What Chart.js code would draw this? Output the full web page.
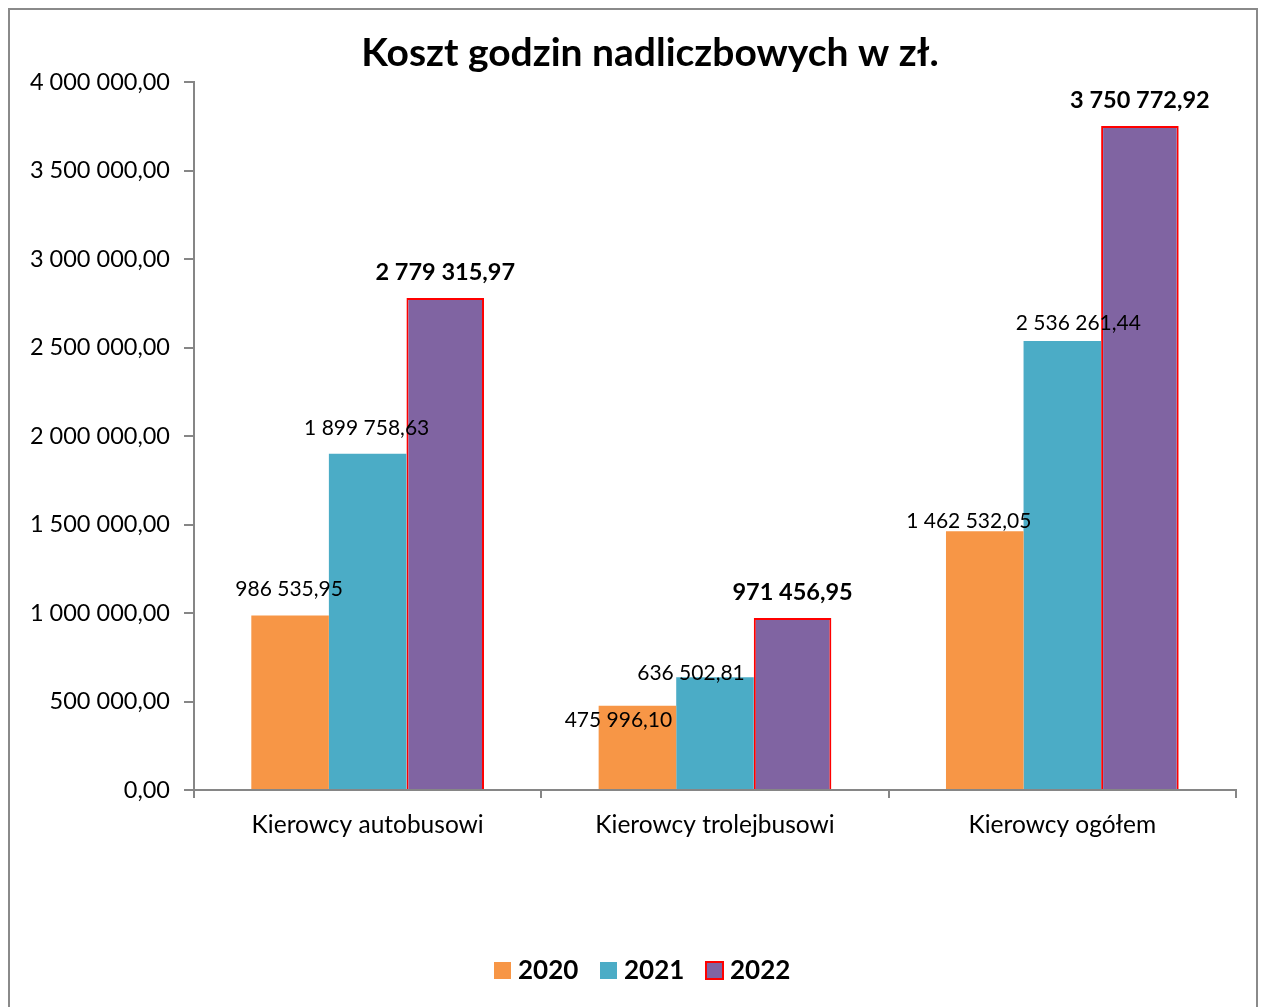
<!DOCTYPE html>
<html><head><meta charset="utf-8">
<script src="https://cdn.jsdelivr.net/npm/chart.js@4/dist/chart.umd.min.js"></script>
<style>
html,body{margin:0;padding:0;background:#fff;}
#wrap{position:relative;width:1263px;height:1007px;}
#frame{position:absolute;left:8px;top:8px;width:1250px;height:1010px;border:2px solid #8a8a8a;box-sizing:border-box;}
canvas{position:absolute;left:0;top:0;}
</style></head>
<body>
<div id="wrap"><div id="frame"></div><canvas id="c" width="1263" height="1007"></canvas></div>
<script>
const categories = ["Kierowcy autobusowi", "Kierowcy trolejbusowi", "Kierowcy ogółem"];
const seriesNames = ["2020", "2021", "2022"];
const values2020 = [986535.95, 475996.10, 1462532.05];
const values2021 = [1899758.63, 636502.81, 2536261.44];
const values2022 = [2779315.97, 971456.95, 3750772.92];
const yTicks = [0, 500000, 1000000, 1500000, 2000000, 2500000, 3000000, 3500000, 4000000];

const FONT = "Lato, 'Open Sans', sans-serif";
const colors = ["#F79646", "#4BACC6", "#8064A2"];
// manual label nudges (px) per dataset per category, like the moved labels in the original
const labelNudge = [
  [[-1,0],[-19,40],[-16,16]],
  [[-1,0],[-24,22],[16,8]],
  [[0,0],[0,0],[0,0]]
];

function fmt(v){
  const s = v.toFixed(2).split(".");
  return s[0].replace(/\B(?=(\d{3})+(?!\d))/g, " ") + "," + s[1];
}

const overlay = {
  id: "overlay",
  afterDatasetsDraw(chart){
    const ctx = chart.ctx;
    ctx.save();
    ctx.textAlign = "center";
    ctx.textBaseline = "middle";
    chart.data.datasets.forEach((ds, di) => {
      const meta = chart.getDatasetMeta(di);
      meta.data.forEach((bar, i) => {
        const bold = di === 2;
        ctx.font = (bold ? "bold 23.5px " : "21px ") + FONT;
        ctx.fillStyle = "#000";
        const n = labelNudge[di][i];
        ctx.fillText(fmt(ds.data[i]), bar.x + n[0], bar.y - 26 + n[1]);
      });
    });
    ctx.restore();
  },
  afterDraw(chart){
    const ctx = chart.ctx;
    ctx.save();
    // title
    ctx.font = "bold 39px " + FONT;
    ctx.fillStyle = "#000";
    ctx.textAlign = "center";
    ctx.textBaseline = "middle";
    ctx.fillText("Koszt godzin nadliczbowych w zł.", 650, 53);
    // legend
    ctx.font = "bold 26px " + FONT;
    ctx.textAlign = "left";
    const xs = [494, 600, 706];
    chart.data.datasets.forEach((ds, di) => {
      const x = xs[di], y = 962;
      ctx.fillStyle = ds.backgroundColor;
      ctx.fillRect(x, y, 17, 17);
      if (di === 2) { ctx.strokeStyle = "#FF0000"; ctx.lineWidth = 2; ctx.strokeRect(x, y, 17, 17); }
      ctx.fillStyle = "#000";
      ctx.fillText(ds.label, x + 24, y + 9);
    });
    ctx.restore();
  }
};

new Chart(document.getElementById("c"), {
  type: "bar",
  data: {
    labels: categories,
    datasets: [
      { label: seriesNames[0], data: values2020, backgroundColor: colors[0], borderWidth: 0 },
      { label: seriesNames[1], data: values2021, backgroundColor: colors[1], borderWidth: 0 },
      { label: seriesNames[2], data: values2022, backgroundColor: colors[2], borderColor: "#FF0000", borderWidth: 2 }
    ]
  },
  options: {
    responsive: false,
    animation: false,
    devicePixelRatio: 1,
    layout: { padding: { top: 82, right: 27, left: 0, bottom: 0 } },
    datasets: { bar: { categoryPercentage: 0.67, barPercentage: 1.0 } },
    plugins: { legend: { display: false }, title: { display: false }, tooltip: { enabled: false } },
    scales: {
      x: {
        grid: { display: true, drawOnChartArea: false, offset: true, tickLength: 8, color: "#868686", lineWidth: 2 },
        border: { display: true, color: "#868686", width: 2 },
        ticks: { color: "#000", font: { family: FONT, size: 24.5 }, padding: 12 },
        afterFit(scale){ scale.height = 217; }
      },
      y: {
        min: 0, max: 4000000,
        afterBuildTicks(scale){ scale.ticks = yTicks.map(v => ({ value: v })); },
        grid: { display: true, drawOnChartArea: false, tickLength: 10, color: "#868686", lineWidth: 2 },
        border: { display: true, color: "#868686", width: 2 },
        ticks: { color: "#000", font: { family: FONT, size: 23.5 }, padding: 14, callback: v => fmt(v) },
        afterFit(scale){ scale.width = 194; }
      }
    }
  },
  plugins: [overlay]
});
</script>
</body></html>
